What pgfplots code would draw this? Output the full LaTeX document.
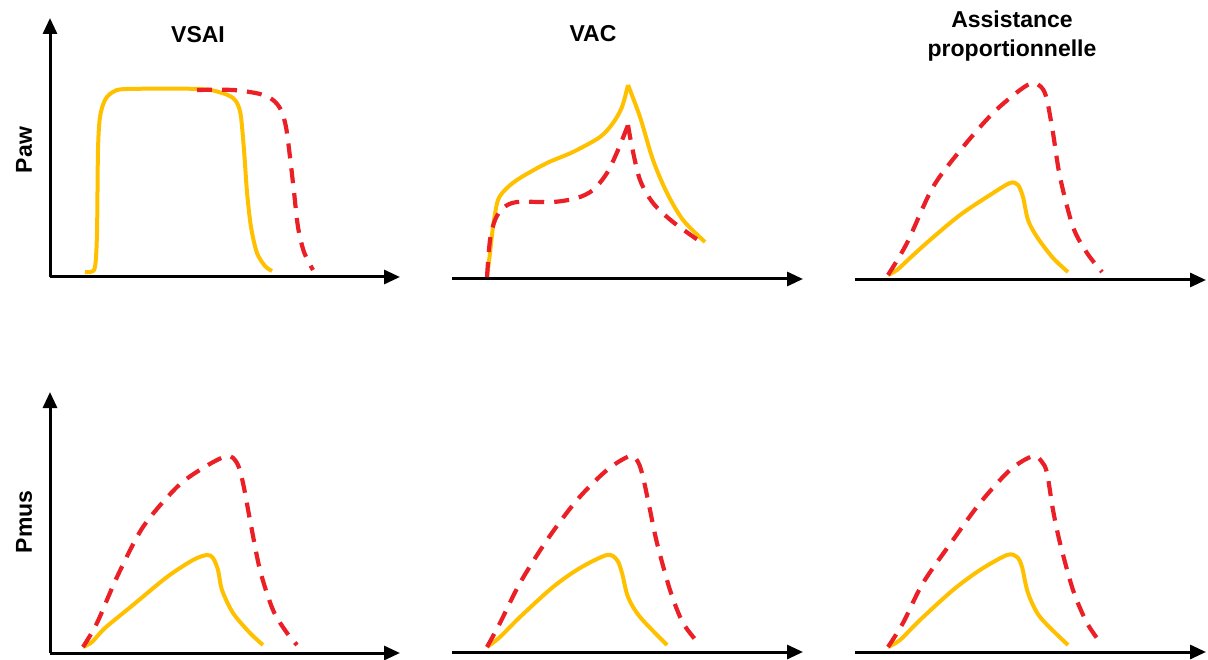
\documentclass[border=0pt]{standalone}
\usepackage{fontspec}
\setmainfont{Liberation Sans}
\usepackage{pgfplots}
\pgfplotsset{compat=1.18}
\usetikzlibrary{arrows.meta}
\definecolor{gold}{HTML}{FFC000}
\definecolor{dred}{RGB}{235,32,39}
\pgfplotsset{
  panel/.style={scale only axis, anchor=south west, enlargelimits=false,
    xtick=\empty, ytick=\empty, ymin=0, clip=false,
    axis line style={line width=1.5pt, -{Triangle[length=8pt,width=7pt]}}},
  solidc/.style={gold, line width=2pt, smooth, no markers},
  dashc/.style={dred, line width=2.1pt, smooth, no markers, dash pattern=on 7.5pt off 5pt},
}
\begin{document}
\begin{tikzpicture}
\useasboundingbox (0,0) rectangle (604pt,329.5pt);
% ---------- Paw / VSAI
\begin{axis}[panel, at={(25pt,191pt)}, width=175pt, height=129.5pt,
  xmin=50, xmax=400, ymax=259, axis lines*=left]
\addplot[solidc] coordinates {(85,5) (90,5) (95,10) (97,44) (98,127) (100,160) (105,177) (113,185) (127,188) (200,188) (222,184) (233,179) (238,172) (241,160) (244,127) (247,85) (251,50) (257,24) (265,11) (272,6)};
\addplot[dashc] coordinates {(197,187) (233,187) (260,183) (273,177) (281,167) (286,150) (290,120) (294,85) (298,50) (304,25) (313,7)};
\end{axis}
% ---------- Paw / VAC
\begin{axis}[panel, at={(226pt,190pt)}, width=175.5pt, height=129.5pt,
  xmin=452, xmax=803, ymax=259, axis x line*=bottom, axis y line=none]
\addplot[solidc] coordinates {(487,2) (490,26) (493,52) (498,79) (507,91) (520,101) (547,116) (573,127) (600,142) (613,156) (622,172) (628,194)};
\addplot[solidc] coordinates {(628,194) (640,162) (653,119) (667,86) (683,59) (705,37)};
\addplot[dashc] coordinates {(487,2) (490,39) (495,59) (503,71) (517,77) (553,77) (577,81) (593,89) (607,106) (618,129) (628,154)};
\addplot[dashc] coordinates {(628,154) (632,132) (640,99) (653,76) (673,57) (705,34)};
\end{axis}
% ---------- Paw / Assistance proportionnelle
\begin{axis}[panel, at={(427.5pt,189.5pt)}, width=175.5pt, height=129.5pt,
  xmin=855, xmax=1206, ymax=259, axis x line*=bottom, axis y line=none]
\addplot[solidc] coordinates {(888,5) (897,10) (910,22) (930,40) (960,65) (990,85) (1010,97) (1018,95) (1023,83) (1028,60) (1037,43) (1053,22) (1068,8)};
\addplot[dashc] coordinates {(888,5) (907,37) (933,93) (963,133) (993,167) (1020,190) (1033,197) (1042,192) (1047,180) (1053,147) (1060,103) (1073,53) (1087,27) (1102,8)};
\end{axis}
% ---------- Pmus / VSAI
\begin{axis}[panel, at={(25pt,3pt)}, width=175pt, height=130.5pt,
  xmin=50, xmax=400, ymax=261, axis lines*=left]
\addplot[solidc] coordinates {(83,6) (92,11) (105,25) (133,48) (167,76) (193,93) (207,98) (213,95) (218,83) (222,63) (233,40) (250,20) (263,8)};
\addplot[dashc] coordinates {(83,6) (97,30) (117,76) (143,126) (177,166) (203,185) (227,197) (237,190) (243,170) (250,133) (260,83) (273,43) (287,20) (297,8)};
\end{axis}
% ---------- Pmus / VAC
\begin{axis}[panel, at={(226pt,3.5pt)}, width=175.5pt, height=130.5pt,
  xmin=452, xmax=803, ymax=261, axis x line*=bottom, axis y line=none]
\addplot[solidc] coordinates {(487,5) (500,15) (520,35) (553,65) (580,84) (607,97) (617,92) (622,79) (628,55) (640,35) (667,7)};
\addplot[dashc] coordinates {(487,5) (500,29) (520,69) (547,112) (577,152) (607,182) (630,196) (638,190) (643,175) (650,142) (657,109) (670,62) (683,29) (700,7)};
\end{axis}
% ---------- Pmus / Assistance proportionnelle
\begin{axis}[panel, at={(427.5pt,3.5pt)}, width=175.5pt, height=130.5pt,
  xmin=855, xmax=1206, ymax=261, axis x line*=bottom, axis y line=none]
\addplot[solidc] coordinates {(888,5) (900,12) (920,32) (953,62) (980,82) (1007,97) (1017,95) (1022,85) (1028,59) (1040,35) (1068,7)};
\addplot[dashc] coordinates {(888,5) (903,29) (923,69) (953,112) (980,149) (1010,182) (1033,196) (1042,190) (1047,179) (1053,142) (1060,109) (1073,62) (1087,29) (1102,7)};
\end{axis}
% ---------- titles and labels
\tikzset{lbl/.style={font=\fontsize{11.5}{14}\selectfont\bfseries, inner sep=0pt, anchor=base}}
\node[lbl] at (99pt,308pt) {VSAI};
\node[lbl] at (296.5pt,308.5pt) {VAC};
\node[lbl] at (506pt,315.5pt) {Assistance};
\node[lbl] at (506pt,301pt) {proportionnelle};
\node[lbl, rotate=90] at (16pt,254.5pt) {Paw};
\node[lbl, rotate=90] at (16pt,68.5pt) {Pmus};
\end{tikzpicture}
\end{document}
